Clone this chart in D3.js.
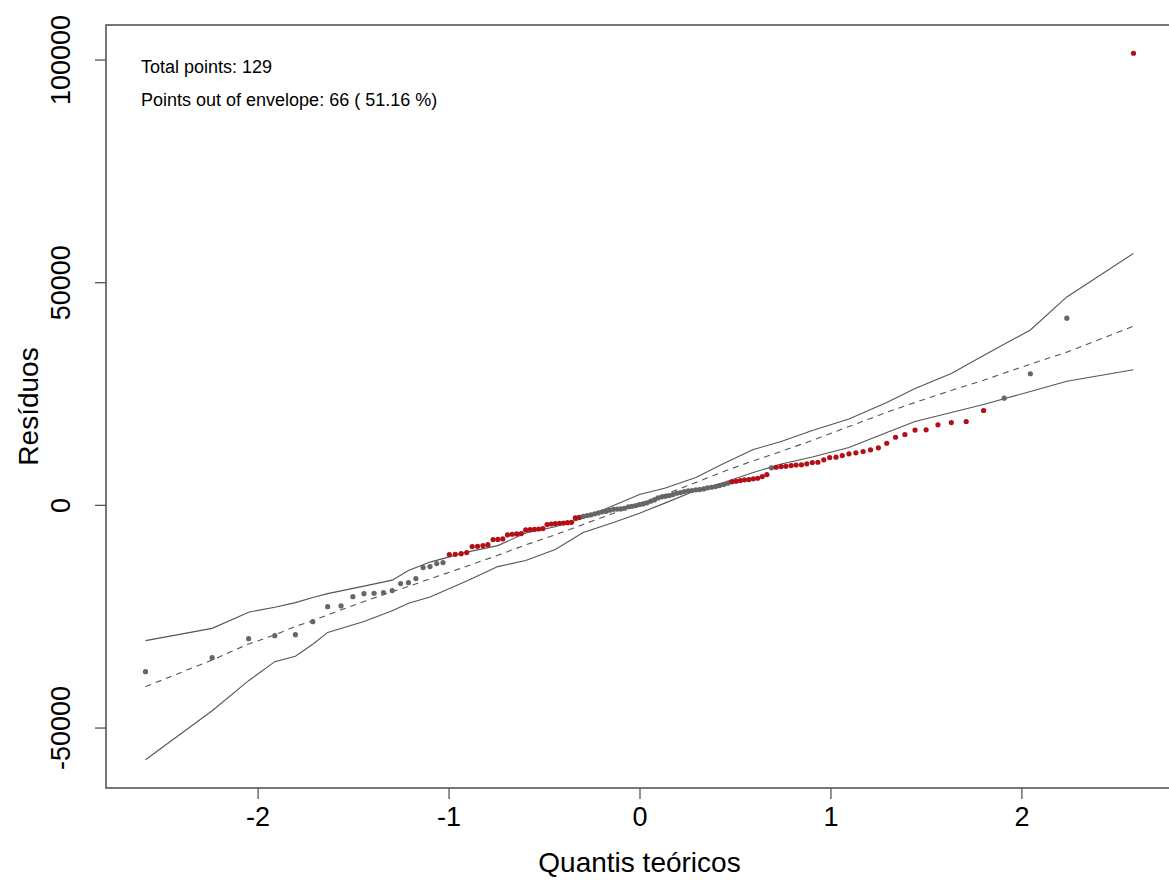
<!DOCTYPE html>
<html>
<head>
<meta charset="utf-8">
<script src="https://cdn.jsdelivr.net/npm/d3@7"></script>
<style>
  body { margin: 0; background: #fff; }
  svg text { font-family: "Liberation Sans", Arial, sans-serif; fill: #000; }
</style>
</head>
<body>
<div id="chart"></div>
<script>
/* DATA */
// theoretical normal quantiles (129 points)
const quantis = [
  -2.587, -2.238, -2.047, -1.910, -1.802, -1.711, -1.633, -1.563, -1.501, -1.443,
  -1.390, -1.341, -1.295, -1.251, -1.210, -1.171, -1.133, -1.097, -1.062, -1.029,
  -0.996, -0.965, -0.934, -0.905, -0.876, -0.848, -0.820, -0.794, -0.767, -0.742,
  -0.716, -0.691, -0.667, -0.643, -0.619, -0.596, -0.573, -0.550, -0.528, -0.506,
  -0.484, -0.462, -0.441, -0.419, -0.398, -0.377, -0.356, -0.336, -0.315, -0.295,
  -0.275, -0.255, -0.235, -0.215, -0.195, -0.175, -0.156, -0.136, -0.117, -0.097,
  -0.078, -0.058, -0.039, -0.019, 0,
  0.019, 0.039, 0.058, 0.078, 0.097, 0.117, 0.136, 0.156, 0.175, 0.195,
  0.215, 0.235, 0.255, 0.275, 0.295, 0.315, 0.336, 0.356, 0.377, 0.398,
  0.419, 0.441, 0.462, 0.484, 0.506, 0.528, 0.550, 0.573, 0.596, 0.619,
  0.643, 0.667, 0.691, 0.716, 0.742, 0.767, 0.794, 0.820, 0.848, 0.876,
  0.905, 0.934, 0.965, 0.996, 1.029, 1.062, 1.097, 1.133, 1.171, 1.210,
  1.251, 1.295, 1.341, 1.390, 1.443, 1.501, 1.563, 1.633, 1.711, 1.802,
  1.910, 2.047, 2.238, 2.587
];

// sorted residuals
const residuos = [
  -37460, -34310, -30040, -29370, -29140, -26220, -22850, -22700, -20610, -19930,
  -19850, -19700, -19250, -17680, -17460, -16560, -14090, -13860, -13190, -12960,
  -11170, -11100, -10950, -10720, -9370, -9300, -9150, -8930, -7800, -7750,
  -7640, -6740, -6600, -6520, -6450, -5620, -5550, -5480, -5420, -5330,
  -4430, -4300, -4200, -4130, -4080, -4000, -3910, -2920, -2790, -2560,
  -2400, -2250, -2020, -1800, -1570, -1440, -1210, -990, -950, -900,
  -760, -450, -310, -160, 70, 220, 450, 810, 1120, 1570,
  1800, 1930, 2090, 2310, 2610, 2760, 2990, 3150, 3210, 3370,
  3440, 3590, 3820, 3960, 4110, 4340, 4560, 4860, 5170, 5300,
  5460, 5620, 5690, 5840, 5980, 6360, 6810, 8310, 8450, 8610,
  8670, 8830, 8950, 8990, 9210, 9500, 9570, 10110, 10630, 10700,
  11080, 11460, 11680, 11980, 12360, 12810, 13840, 15190, 15800, 16800,
  16850, 17980, 18490, 18720, 21190, 23950, 29440, 41930, 101410
];

// 1 = point out of the envelope (drawn red)
const fora = [
  0,0,0,0,0,0,0,0,0,0, 0,0,0,0,0,0,0,0,0,0,
  1,1,1,1,1,1,1,1,1,1, 1,1,1,1,1,1,1,1,1,1,
  1,1,1,1,1,1,1,1,1,0, 0,0,0,0,0,0,0,0,0,0,
  0,0,0,0,0,0,0,0,0,0, 0,0,0,0,0,0,0,0,0,0,
  0,0,0,0,0,0,0,0,1,1, 1,1,1,1,1,1,1,0,1,1,
  1,1,1,1,1,1,1,1,1,1, 1,1,1,1,1,1,1,1,1,1,
  1,1,1,1,1,0,0,0,1
];

// simulated envelope (lower / median / upper), read at these quantiles
const envQ = [-2.587, -2.238, -2.047, -1.910, -1.802, -1.711, -1.633, -1.443, -1.295, -1.210,
  -1.097, -0.905, -0.742, -0.596, -0.441, -0.295, -0.136, 0, 0.136, 0.295,
  0.441, 0.596, 0.742, 0.905, 1.097, 1.295, 1.443, 1.633, 1.802, 2.047,
  2.238, 2.587];
const envLow = [-57230, -46220, -39480, -35210, -33980, -31300, -28630, -26180, -23750, -22100,
  -20690, -17120, -13860, -12510, -10040, -6220, -3980, -1870, 450, 3210,
  5010, 7260, 9170, 10740, 12880, 16250, 18720, 20740, 22540, 25460,
  27770, 30330];
const envMid = [-40830, -34830, -31230, -29200, -27300, -26000, -24700, -21700, -19500, -18300,
  -16600, -13800, -11300, -9000, -6700, -4400, -1900, 300, 2400, 5000,
  7500, 9900, 12000, 14500, 17600, 20800, 23000, 25700, 28000, 31600,
  34300, 40130];
const envUp = [-30490, -27730, -24090, -23000, -21950, -20800, -19930, -18250, -16900, -14760,
  -12850, -10610, -9150, -6300, -4900, -3000, -160, 2310, 3770, 6130,
  9280, 12430, 14220, 16700, 19280, 22990, 26130, 29500, 33550, 39280,
  46690, 56470];

const xTicks = [-2, -1, 0, 1, 2];
const yTicks = [-50000, 0, 50000, 100000];
const infoLines = ["Total points: 129", "Points out of envelope: 66 ( 51.16 %)"];

/* CONSTANTS */
const width = 1169, height = 880;
const plot = { left: 106, right: 1173, top: 25, bottom: 788 };
const lineColor = "#555";

// R style axis range: data range extended by 4% on each side
function rExtend([a, b]) {
  const d = (b - a) * 0.04;
  return [a - d, b + d];
}

const svg = d3.select("#chart")
  .append("svg")
  .attr("width", width)
  .attr("height", height);

const xScale = d3.scaleLinear()
  .domain(rExtend(d3.extent(quantis)))
  .range([plot.left, plot.right]);

const yScale = d3.scaleLinear()
  .domain(rExtend(d3.extent(residuos.concat(envLow, envUp))))
  .range([plot.bottom, plot.top]);

// + ENVELOPE LINES
const env = envQ.map((q, i) => ({ q, low: envLow[i], mid: envMid[i], up: envUp[i] }));
const lineFor = key => d3.line().x(d => xScale(d.q)).y(d => yScale(d[key]));

svg.selectAll("path.env")
  .data(["low", "up", "mid"])
  .join("path")
  .attr("class", "env")
  .attr("d", k => lineFor(k)(env))
  .attr("fill", "none")
  .attr("stroke", lineColor)
  .attr("stroke-width", 1.1)
  .attr("stroke-dasharray", k => k === "mid" ? "6,5" : null);

// + POINTS
const points = quantis.map((q, i) => ({ q, r: residuos[i], out: fora[i] }));

svg.selectAll("circle.pt")
  .data(points)
  .join("circle")
  .attr("class", "pt")
  .attr("cx", d => xScale(d.q))
  .attr("cy", d => yScale(d.r))
  .attr("r", 2.6)
  .attr("fill", d => d.out ? "#b40f16" : "#666");

// + BOX
svg.append("rect")
  .attr("x", plot.left)
  .attr("y", plot.top)
  .attr("width", plot.right - plot.left)
  .attr("height", plot.bottom - plot.top)
  .attr("fill", "none")
  .attr("stroke", lineColor)
  .attr("stroke-width", 1.6);

// + AXES (plain hyphen minus like R)
const fmt = d => String(d);

const xAxis = svg.append("g")
  .attr("transform", `translate(0, ${plot.bottom})`)
  .call(d3.axisBottom(xScale).tickValues(xTicks).tickSize(11).tickPadding(8).tickFormat(fmt));

const yAxis = svg.append("g")
  .attr("transform", `translate(${plot.left}, 0)`)
  .call(d3.axisLeft(yScale).tickValues(yTicks).tickSize(11).tickFormat(fmt));

[xAxis, yAxis].forEach(g => {
  g.select(".domain").remove();
  g.selectAll(".tick line").attr("stroke", lineColor).attr("stroke-width", 1.3);
  g.selectAll("text").attr("font-size", 27).attr("font-family", "Liberation Sans, Arial, sans-serif");
});

yAxis.selectAll("text")
  .attr("transform", "rotate(-90)")
  .attr("x", 0)
  .attr("y", -36)
  .attr("dy", 0)
  .attr("text-anchor", "middle");

// + AXIS TITLES
svg.append("text")
  .attr("x", (plot.left + plot.right) / 2)
  .attr("y", 872)
  .attr("text-anchor", "middle")
  .attr("font-size", 28)
  .text("Quantis teóricos");

svg.append("text")
  .attr("transform", `translate(38, ${(plot.top + plot.bottom) / 2}) rotate(-90)`)
  .attr("text-anchor", "middle")
  .attr("font-size", 28)
  .text("Resíduos");

// + INFO TEXT
svg.selectAll("text.info")
  .data(infoLines)
  .join("text")
  .attr("class", "info")
  .attr("x", 141)
  .attr("y", (d, i) => 73 + i * 33)
  .attr("font-size", 18)
  .text(d => d);
</script>
</body>
</html>
